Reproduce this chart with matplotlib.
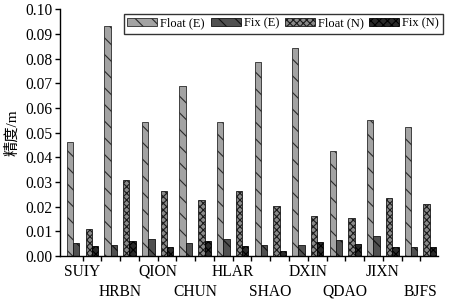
import numpy as np
import matplotlib.pyplot as plt

plt.rcParams['font.family'] = ['Liberation Serif', 'Noto Sans CJK SC']
plt.rcParams['hatch.linewidth'] = 0.8

stations = ["SUIY", "HRBN", "QION", "CHUN", "HLAR",
            "SHAO", "DXIN", "QDAO", "JIXN", "BJFS"]

float_e = [0.0464, 0.0934, 0.0543, 0.0691, 0.0543, 0.0788, 0.0845, 0.0427, 0.0551, 0.0524]
fix_e = [0.0051, 0.0046, 0.0068, 0.0054, 0.0068, 0.0046, 0.0046, 0.0065, 0.0080, 0.0038]
float_n = [0.0110, 0.0308, 0.0263, 0.0229, 0.0265, 0.0204, 0.0161, 0.0153, 0.0236, 0.0211]
fix_n = [0.0040, 0.0061, 0.0038, 0.0062, 0.0041, 0.0022, 0.0057, 0.0050, 0.0035, 0.0036]

x = np.arange(len(stations))
w = 0.168

fig = plt.figure(figsize=(4.56, 3.04), dpi=100)
ax = fig.add_axes([0.1316, 0.158, 0.829, 0.811])

ax.bar(x - 0.25 - w / 2, float_e, w, color='#a3a3a3', edgecolor='#2a2a2a',
       hatch='\\\\', linewidth=0.6, label='Float (E)')
ax.bar(x - 0.25 + w / 2, fix_e, w, color='#505050', edgecolor='#111111',
       hatch='\\\\', linewidth=0.6, label='Fix (E)')
ax.bar(x + 0.25 - w / 2, float_n, w, color='#8a8a8a', edgecolor='#1a1a1a',
       hatch='xxxxx', linewidth=0.6, label='Float (N)')
ax.bar(x + 0.25 + w / 2, fix_n, w, color='#2a2a2a', edgecolor='#000000',
       hatch='xxxx', linewidth=0.6, label='Fix (N)')

ax.set_xlim(-0.6, 9.47)
ax.set_ylim(0, 0.10)
yt = np.arange(0, 0.101, 0.01)
ax.set_yticks(yt)
ax.set_yticklabels([f"{v:.2f}" for v in yt], fontsize=11.2)

ax.set_xticks(x)
ax.set_xticklabels(stations, fontsize=11.2)
ax.set_xticks(x[:-1] + 0.5, minor=True)
ax.tick_params(axis='both', which='both', direction='out', length=3.5, width=1, pad=2)
for i, t in enumerate(ax.xaxis.get_major_ticks()):
    if i % 2 == 1:
        t.set_pad(16.5)

for side in ['top', 'right']:
    ax.spines[side].set_visible(False)
for side in ['left', 'bottom']:
    ax.spines[side].set_linewidth(1)

ax.set_ylabel("精度/m", fontsize=11, labelpad=4)

leg = ax.legend(ncol=4, loc='upper right', bbox_to_anchor=(443 / 456, 1 - 14 / 304),
                bbox_transform=fig.transFigure, fontsize=9, frameon=True,
                fancybox=False, edgecolor='black', handlelength=2.4,
                handleheight=0.6, columnspacing=0.45, handletextpad=0.25,
                borderpad=0.3, borderaxespad=0)
leg.get_frame().set_linewidth(1)

fig.savefig("out.png", dpi=100)
